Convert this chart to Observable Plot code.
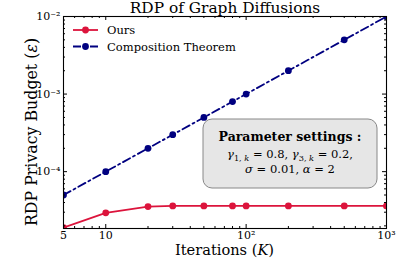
<!DOCTYPE html>
<html><head><meta charset="utf-8">
<script src="https://cdn.jsdelivr.net/npm/d3@7"></script>
<script src="https://cdn.jsdelivr.net/npm/@observablehq/plot@0.6"></script>
<style>body{margin:0;background:#fff} svg{display:block} svg, svg text{font-family:'DejaVu Serif', serif !important}</style>
</head><body><div id="chart"></div>
<script>
const iterations = [5, 10, 20, 30, 50, 80, 100, 200, 500, 1000];
const oursValues = [1.9e-5, 2.95e-5, 3.55e-5, 3.62e-5, 3.62e-5, 3.62e-5, 3.62e-5, 3.62e-5, 3.62e-5, 3.62e-5];
const compositionValues = [5e-5, 1e-4, 2e-4, 3e-4, 5e-4, 8e-4, 1e-3, 2e-3, 5e-3, 1e-2];
const seriesNames = ["Ours", "Composition Theorem"];
const seriesColors = ["#dc143c", "#000080"];
const xTicks = [5, 10, 100, 1000];
const xTickLabels = ["5", "10", "10²", "10³"];
const yTicks = [1e-4, 1e-3, 1e-2];
const yTickLabels = ["10⁻⁴", "10⁻³", "10⁻²"];
const xMinor = [6, 7, 8, 9, 20, 30, 40, 50, 60, 70, 80, 90, 200, 300, 400, 500, 600, 700, 800, 900];
const yMinor = [2e-5, 3e-5, 4e-5, 5e-5, 6e-5, 7e-5, 8e-5, 9e-5,
                2e-4, 3e-4, 4e-4, 5e-4, 6e-4, 7e-4, 8e-4, 9e-4,
                2e-3, 3e-3, 4e-3, 5e-3, 6e-3, 7e-3, 8e-3, 9e-3];
const titleText = "RDP of Graph Diffusions";

const W = 402, H = 268, mL = 63, mR = 16, mT = 16, mB = 40;
const pw = W - mL - mR, ph = H - mT - mB;

const data = [];
iterations.forEach((k, i) => {
  data.push({series: seriesNames[0], k, v: oursValues[i]});
  data.push({series: seriesNames[1], k, v: compositionValues[i]});
});
const ours = data.filter(d => d.series === seriesNames[0]);
const comp = data.filter(d => d.series === seriesNames[1]);
const font = "'DejaVu Serif', serif";
const dashDot = "8,3.5,2,3.5";

const plot = Plot.plot({
  width: W, height: H,
  marginLeft: mL, marginRight: mR, marginTop: mT, marginBottom: mB,
  style: {fontFamily: font, fontSize: "11px", color: "#000", background: "#fff"},
  x: {type: "log", domain: [5, 1000], axis: null},
  y: {type: "log", domain: [1.85e-5, 1e-2], axis: null},
  marks: [
    Plot.line(comp, {x: "k", y: "v", stroke: seriesColors[1], strokeWidth: 1.8, strokeDasharray: dashDot, clip: true}),
    Plot.dot(comp, {x: "k", y: "v", r: 3.4, fill: seriesColors[1], clip: true}),
    Plot.line(ours, {x: "k", y: "v", stroke: seriesColors[0], strokeWidth: 1.8, clip: true}),
    Plot.dot(ours, {x: "k", y: "v", r: 3.4, fill: seriesColors[0], clip: true}),
    Plot.tickX(xTicks, {x: d => d, insetTop: ph - 4, stroke: "black"}),
    Plot.tickX(xTicks, {x: d => d, insetBottom: ph - 4, stroke: "black"}),
    Plot.tickX(xMinor, {x: d => d, insetTop: ph - 2, stroke: "black"}),
    Plot.tickX(xMinor, {x: d => d, insetBottom: ph - 2, stroke: "black"}),
    Plot.tickY(yTicks, {y: d => d, insetRight: pw - 4, stroke: "black"}),
    Plot.tickY(yTicks, {y: d => d, insetLeft: pw - 4, stroke: "black"}),
    Plot.tickY(yMinor, {y: d => d, insetRight: pw - 2, stroke: "black"}),
    Plot.tickY(yMinor, {y: d => d, insetLeft: pw - 2, stroke: "black"}),
    Plot.text(xTicks, {x: d => d, frameAnchor: "bottom", dy: 3, lineAnchor: "top", textAnchor: "middle", fontSize: 11, text: (d, i) => xTickLabels[i]}),
    Plot.text(yTicks, {y: d => d, frameAnchor: "left", dx: -3, textAnchor: "end", fontSize: 11, text: (d, i) => yTickLabels[i]}),
    Plot.frame({stroke: "black", strokeWidth: 1.1}),
    Plot.text([titleText], {frameAnchor: "top", dy: -4, lineAnchor: "bottom", textAnchor: "middle", fontSize: 15.4})
  ]
});
document.getElementById("chart").appendChild(plot);

const svg = d3.select(plot);
// axis labels
const xl = svg.append("text").attr("x", mL + pw / 2).attr("y", mT + ph + 27).attr("text-anchor", "middle")
  .attr("font-family", font).attr("font-size", 14.6);
xl.append("tspan").text("Iterations (");
xl.append("tspan").attr("font-style", "italic").text("K");
xl.append("tspan").text(")");
const yl = svg.append("text").attr("transform", `translate(${mL - 32},${mT + ph / 2 + 10}) rotate(-90)`)
  .attr("text-anchor", "middle").attr("dy", "0.35em").attr("font-family", font).attr("font-size", 15.8);
yl.append("tspan").text("RDP Privacy Budget (");
yl.append("tspan").attr("font-style", "italic").text("ε");
yl.append("tspan").text(")");
// legend
const lg = svg.append("g").attr("font-family", font).attr("font-size", 11.5).attr("text-anchor", "start");
seriesNames.forEach((name, i) => {
  const y = mT + 14 + i * 16.5;
  const g = lg.append("g");
  g.append("line").attr("x1", mL + 10).attr("x2", mL + 35).attr("y1", y).attr("y2", y)
    .attr("stroke", seriesColors[i]).attr("stroke-width", 1.8)
    .attr("stroke-dasharray", i === 1 ? dashDot : null);
  g.append("circle").attr("cx", mL + 22.5).attr("cy", y).attr("r", 3.4).attr("fill", seriesColors[i]);
  g.append("text").attr("x", mL + 44).attr("y", y).attr("dy", "0.35em").text(name);
});
// annotation box
const bx = mL + 140, by = mT + 103, bw = 174, bh = 69;
const ab = svg.append("g").attr("font-family", font).attr("font-size", 11.5).attr("text-anchor", "middle");
ab.append("rect").attr("x", bx).attr("y", by).attr("width", bw).attr("height", bh)
  .attr("rx", 9).attr("fill", "#e6e6e6").attr("stroke", "#888").attr("stroke-width", 1);
const cx = bx + bw / 2;
ab.append("text").attr("x", cx).attr("y", by + 22).attr("font-weight", "bold").attr("font-size", 12.5).text("Parameter settings :");
const t2 = ab.append("text").attr("x", cx).attr("y", by + 39);
t2.append("tspan").attr("font-style", "italic").text("γ");
t2.append("tspan").attr("font-size", 8.2).attr("dy", 2.5).text("1, ");
t2.append("tspan").attr("font-size", 8.2).attr("font-style", "italic").text("k");
t2.append("tspan").attr("dy", -2.5).text(" = 0.8, ");
t2.append("tspan").attr("font-style", "italic").text("γ");
t2.append("tspan").attr("font-size", 8.2).attr("dy", 2.5).text("3, ");
t2.append("tspan").attr("font-size", 8.2).attr("font-style", "italic").text("k");
t2.append("tspan").attr("dy", -2.5).text(" = 0.2,");
const t3 = ab.append("text").attr("x", cx).attr("y", by + 54);
t3.append("tspan").attr("font-style", "italic").text("σ");
t3.append("tspan").text(" = 0.01, ");
t3.append("tspan").attr("font-style", "italic").text("α");
t3.append("tspan").text(" = 2");
</script></body></html>
